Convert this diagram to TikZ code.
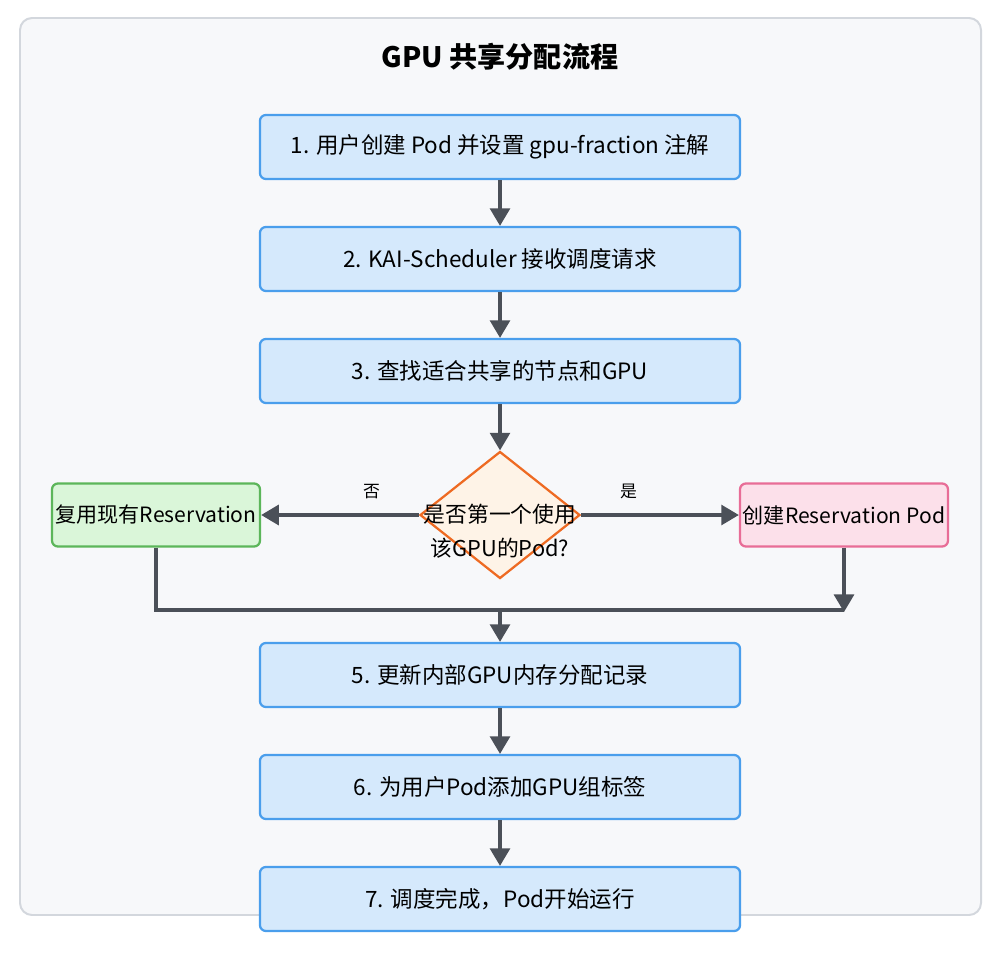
\documentclass[tikz,border=0pt]{standalone}
\usepackage{fontspec}
\setmainfont{Noto Sans CJK SC}
\usetikzlibrary{shapes.geometric,arrows.meta}
\definecolor{panelfill}{HTML}{F7F8FA}
\definecolor{paneldraw}{HTML}{D3D7DD}
\definecolor{stepfill}{HTML}{D5E9FC}
\definecolor{stepdraw}{HTML}{4A9EEC}
\definecolor{reusefill}{HTML}{DAF6D9}
\definecolor{reusedraw}{HTML}{5CB65A}
\definecolor{makefill}{HTML}{FCE0EA}
\definecolor{makedraw}{HTML}{E86D97}
\definecolor{askfill}{HTML}{FEF3E7}
\definecolor{askdraw}{HTML}{EE6A22}
\definecolor{wirecol}{HTML}{4B5058}
\begin{document}
\begin{tikzpicture}[x=0.025cm, y=-0.025cm, font=\fontsize{16}{19}\selectfont,
    stepbox/.style={draw=stepdraw, fill=stepfill, line width=1.6pt, rounded corners=0.15cm,
                    minimum width=12cm, minimum height=1.6cm, inner sep=0pt},
    sidebox/.style={line width=1.6pt, rounded corners=0.15cm, minimum width=5.2cm,
                    minimum height=1.575cm, inner sep=0pt, font=\fontsize{15}{18}\selectfont},
    ask/.style={diamond, draw=askdraw, fill=askfill, line width=1.6pt, inner sep=0pt,
                minimum width=4cm, minimum height=3.175cm},
    wire/.style={draw=wirecol, line width=2.2pt},
    flow/.style={wire, -{Triangle[length=0.44cm, width=0.5cm]}},
    tag/.style={font=\fontsize{12}{14}\selectfont}]
    \useasboundingbox (0,0) rectangle (1004,958);
    % panel and title
    \draw[fill=panelfill, draw=paneldraw, line width=1.4pt, rounded corners=0.3cm] (20,18) rectangle (981,915);
    \node[font=\fontsize{20}{24}\selectfont\bfseries] (title) at (500,57) {GPU 共享分配流程};
    % main steps
    \node[stepbox] (s1) at (500,147) {1. 用户创建 Pod 并设置 gpu-fraction 注解};
    \node[stepbox] (s2) at (500,259) {2. KAI-Scheduler 接收调度请求};
    \node[stepbox] (s3) at (500,371) {3. 查找适合共享的节点和GPU};
    \node[ask] (q) at (500,515) {};
    \node[font=\fontsize{15.5}{24}\selectfont, align=center] (qtext) at (500,531) {是否第一个使用\\该GPU的Pod?};
    \node[sidebox, draw=reusedraw, fill=reusefill] (reuse) at (156,515) {复用现有Reservation};
    \node[sidebox, draw=makedraw, fill=makefill] (make) at (844,515) {创建Reservation Pod};
    \node[stepbox] (s5) at (500,675) {5. 更新内部GPU内存分配记录};
    \node[stepbox] (s6) at (500,787) {6. 为用户Pod添加GPU组标签};
    \node[stepbox] (s7) at (500,899) {7. 调度完成，Pod开始运行};
    % connectors
    \draw[flow] (s1) -- (s2);
    \draw[flow] (s2) -- (s3);
    \draw[flow] (s3) -- (q);
    \draw[flow] (q) -- node[tag, pos=0.3, above=0.25cm] {否} (reuse);
    \draw[flow] (q) -- node[tag, pos=0.3, above=0.25cm] {是} (make);
    \coordinate (mergeL) at (156,610);
    \coordinate (mergeR) at (844,612);
    \coordinate (merge) at (500,610);
    \draw[wire] (reuse.south) -- (mergeL) -- (844,610);
    \draw[flow] (make.south) -- (mergeR);
    \draw[flow] (merge) -- (s5);
    \draw[flow] (s5) -- (s6);
    \draw[flow] (s6) -- (s7);
\end{tikzpicture}
\end{document}
